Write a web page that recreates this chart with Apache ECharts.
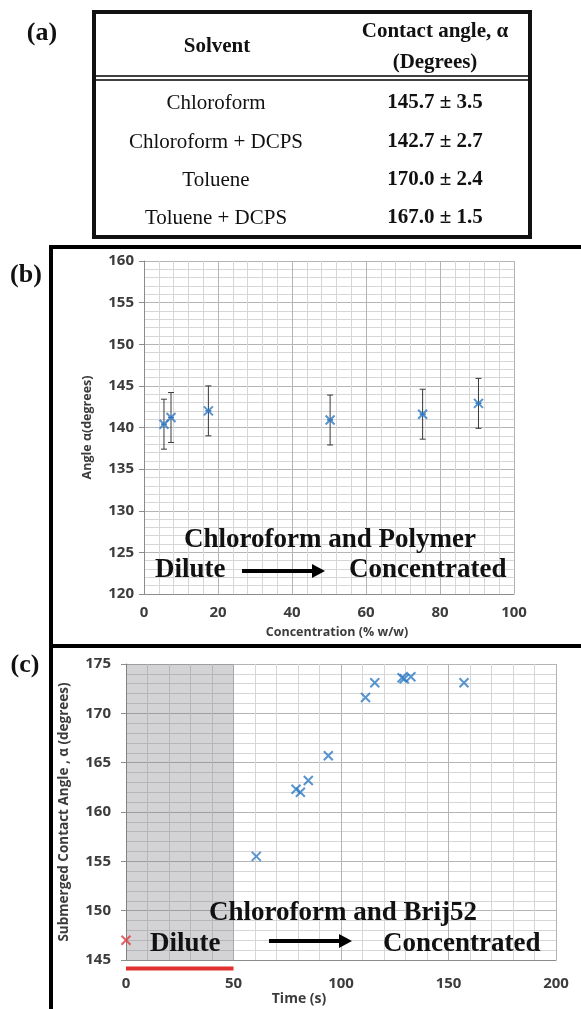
<!DOCTYPE html>
<html>
<head>
<meta charset="utf-8">
<script src="https://cdn.jsdelivr.net/npm/echarts@6.0.0/dist/echarts.min.js"></script>
<style>
  html, body { margin: 0; padding: 0; background: #fff; }
  #chart { width: 581px; height: 1009px; }
</style>
</head>
<body>
<div id="chart"></div>
<script>
// (a) table
var solvents = ['Chloroform', 'Chloroform + DCPS', 'Toluene', 'Toluene + DCPS'];
var angleMean = ['145.7', '142.7', '170.0', '167.0'];
var angleErr = ['3.5', '2.7', '2.4', '1.5'];

// (b) chloroform + polymer
var concX = [5.4, 7.3, 17.4, 50.3, 75.3, 90.4];
var concAngle = [140.4, 141.2, 142.0, 140.9, 141.6, 142.9];
var concErr = [3, 3, 3, 3, 3, 3];
var concXErr = [0.8, 0.8, 0.8, 0.8, 0.8, 0.8];

// (c) chloroform + Brij52
var timeX = [60.6, 79.1, 81.1, 84.8, 94.1, 111.4, 115.7, 128.4, 129.4, 132.5, 157.2];
var timeAngle = [155.5, 162.3, 162.0, 163.2, 165.7, 171.6, 173.1, 173.6, 173.5, 173.7, 173.1];
var startX = [0];
var startAngle = [147.0];
var diluteRange = [0, 50];
var diluteBarY = 144.15;

var blue = '#2e7bc4';
var xMark = 'path://M0,0L10,10M10,0L0,10';
var serif = '"Liberation Serif", "Times New Roman", serif';
var sans = '"Open Sans", sans-serif';

var chart = echarts.init(document.getElementById('chart'));

function axisLabel(margin) {
  return { color: '#3c3c3c', fontWeight: 'bold', fontFamily: sans, fontSize: 15, margin: margin };
}
var majorLine = { show: true, lineStyle: { color: '#b4b4b4', width: 1 } };
var minorLine = { show: true, lineStyle: { color: '#d6d6d6', width: 1 } };
var axisLine = { show: true, lineStyle: { color: '#8c8c8c' } };

// error bars for panel (b)
function renderErr(params, api) {
  var x = api.value(0), y = api.value(1), e = api.value(2), ex = api.value(3);
  var top = api.coord([x, y + e]);
  var bot = api.coord([x, y - e]);
  var l = api.coord([x - ex, y]);
  var r = api.coord([x + ex, y]);
  var cap = 3;
  var st = { stroke: '#3a3a3a', lineWidth: 1 };
  return {
    type: 'group',
    children: [
      { type: 'line', shape: { x1: top[0], y1: top[1], x2: bot[0], y2: bot[1] }, style: st },
      { type: 'line', shape: { x1: top[0] - cap, y1: top[1], x2: top[0] + cap, y2: top[1] }, style: st },
      { type: 'line', shape: { x1: bot[0] - cap, y1: bot[1], x2: bot[0] + cap, y2: bot[1] }, style: st },
      { type: 'line', shape: { x1: l[0], y1: l[1], x2: r[0], y2: r[1] }, style: { stroke: blue, lineWidth: 1.5 } }
    ]
  };
}

function txt(x, y, text, font, align) {
  return {
    type: 'text', x: x, y: y, z: 100,
    style: { text: text, font: font, fill: '#111', align: align || 'center', verticalAlign: 'middle' }
  };
}
// arrow: shaft + head, both drawn on top of the grid
function arrow(x1, x2, y) {
  return [
    { type: 'rect', z: 100, shape: { x: x1, y: y - 2, width: x2 - x1 - 12, height: 4 }, style: { fill: '#000' } },
    { type: 'polygon', z: 100, shape: { points: [[x2 - 13, y - 7], [x2, y], [x2 - 13, y + 7]] }, style: { fill: '#000' } }
  ];
}
function hline(x1, x2, y, w) {
  return { type: 'line', shape: { x1: x1, y1: y, x2: x2, y2: y }, style: { stroke: '#000', lineWidth: w } };
}

var graphics = [
  // panel frames
  { type: 'line', shape: { x1: 51, y1: 245, x2: 51, y2: 1009 }, style: { stroke: '#000', lineWidth: 4 } },
  hline(49, 581, 247, 4),
  hline(49, 581, 646, 4),
  // table
  { type: 'rect', shape: { x: 94, y: 12, width: 436, height: 225 }, style: { stroke: '#111', fill: 'none', lineWidth: 4 } },
  hline(96, 528, 76, 1.5),
  hline(96, 528, 80, 1.5),
  txt(42, 33, '(a)', 'bold 26px ' + serif),
  txt(26, 275, '(b)', 'bold 26px ' + serif),
  txt(25, 665, '(c)', 'bold 26px ' + serif),
  txt(217, 47, 'Solvent', 'bold 21px ' + serif),
  txt(435, 32, 'Contact angle, α', 'bold 21px ' + serif),
  txt(435, 63, '(Degrees)', 'bold 21px ' + serif)
];
var rowY = [103, 142, 180, 218];
solvents.forEach(function (s, i) {
  graphics.push(txt(216, rowY[i], s, '21px ' + serif));
  graphics.push(txt(435, rowY[i], angleMean[i] + ' ± ' + angleErr[i], 'bold 21px ' + serif));
});
// annotations (b)
graphics.push(txt(330, 540, 'Chloroform and Polymer', 'bold 27px ' + serif));
graphics.push(txt(155, 570, 'Dilute', 'bold 27px ' + serif, 'left'));
graphics = graphics.concat(arrow(242, 325, 571));
graphics.push(txt(349, 570, 'Concentrated', 'bold 27px ' + serif, 'left'));
// annotations (c)
graphics.push(txt(343, 913, 'Chloroform and Brij52', 'bold 27px ' + serif));
graphics.push(txt(150, 944, 'Dilute', 'bold 27px ' + serif, 'left'));
graphics = graphics.concat(arrow(269, 352, 941));
graphics.push(txt(383, 944, 'Concentrated', 'bold 27px ' + serif, 'left'));

chart.setOption({
  backgroundColor: '#fff',
  animation: false,
  graphic: { elements: graphics, z: 50 },
  grid: [
    { left: 144, top: 261, width: 370, height: 333 },
    { left: 126, top: 664, width: 430, height: 296 }
  ],
  xAxis: [
    {
      gridIndex: 0, type: 'value', min: 0, max: 100, interval: 20,
      name: 'Concentration (% w/w)', nameLocation: 'middle', nameGap: 32,
      nameTextStyle: { color: '#3c3c3c', fontWeight: 'bold', fontFamily: sans, fontSize: 12.5, padding: [0, 0, 0, 16] },
      axisLine: axisLine, axisTick: { show: false },
      axisLabel: axisLabel(11),
      splitLine: majorLine,
      minorTick: { show: false, splitNumber: 5 },
      minorSplitLine: minorLine
    },
    {
      gridIndex: 1, type: 'value', min: 0, max: 200, interval: 50,
      name: 'Time (s)', nameLocation: 'middle', nameGap: 27,
      nameTextStyle: { color: '#3c3c3c', fontWeight: 'bold', fontFamily: sans, fontSize: 14, padding: [0, 84, 0, 0] },
      axisLine: axisLine, axisTick: { show: false },
      axisLabel: axisLabel(16),
      splitLine: majorLine,
      minorTick: { show: false, splitNumber: 5 },
      minorSplitLine: minorLine
    }
  ],
  yAxis: [
    {
      gridIndex: 0, type: 'value', min: 120, max: 160, interval: 5,
      name: 'Angle α(degrees)', nameLocation: 'middle', nameGap: 50,
      nameTextStyle: { color: '#3c3c3c', fontWeight: 'bold', fontFamily: sans, fontSize: 12.5 },
      axisLine: axisLine, axisTick: { show: true, length: 5, lineStyle: { color: '#8c8c8c' } },
      axisLabel: axisLabel(10),
      splitLine: majorLine,
      minorTick: { show: false, splitNumber: 5 },
      minorSplitLine: minorLine
    },
    {
      gridIndex: 1, type: 'value', min: 145, max: 175, interval: 5,
      name: 'Submerged Contact Angle , α (degrees)', nameLocation: 'middle', nameGap: 55,
      nameTextStyle: { color: '#3c3c3c', fontWeight: 'bold', fontFamily: sans, fontSize: 13.5 },
      axisLine: axisLine, axisTick: { show: true, length: 5, lineStyle: { color: '#8c8c8c' } },
      axisLabel: axisLabel(15),
      splitLine: majorLine,
      minorTick: { show: false, splitNumber: 5 },
      minorSplitLine: minorLine
    }
  ],
  series: [
    {
      type: 'custom', xAxisIndex: 0, yAxisIndex: 0, z: 3,
      renderItem: renderErr,
      data: concX.map(function (x, i) { return [x, concAngle[i], concErr[i], concXErr[i]]; })
    },
    {
      type: 'scatter', xAxisIndex: 0, yAxisIndex: 0, z: 4,
      symbol: xMark, symbolSize: 9,
      itemStyle: { color: 'rgba(0,0,0,0)', borderColor: blue, borderWidth: 2 },
      data: concX.map(function (x, i) { return [x, concAngle[i]]; })
    },
    {
      type: 'scatter', xAxisIndex: 1, yAxisIndex: 1, z: 4,
      symbol: xMark, symbolSize: 9,
      itemStyle: { color: 'rgba(0,0,0,0)', borderColor: blue, borderWidth: 2 },
      data: timeX.map(function (x, i) { return [x, timeAngle[i]]; }),
      markArea: {
        silent: true,
        itemStyle: { color: 'rgba(110,110,120,0.3)' },
        data: [[{ coord: [diluteRange[0], 145] }, { coord: [diluteRange[1], 175] }]]
      }
    },
    {
      type: 'scatter', xAxisIndex: 1, yAxisIndex: 1, z: 6,
      symbol: xMark, symbolSize: 9,
      itemStyle: { color: 'rgba(0,0,0,0)', borderColor: '#e0383c', borderWidth: 2 },
      data: startX.map(function (x, i) { return [x, startAngle[i]]; })
    },
    {
      type: 'line', xAxisIndex: 1, yAxisIndex: 1, z: 5, clip: false,
      symbol: 'none',
      lineStyle: { color: '#e03030', width: 4 },
      data: [[diluteRange[0], diluteBarY], [diluteRange[1], diluteBarY]]
    }
  ]
});
</script>
</body>
</html>
